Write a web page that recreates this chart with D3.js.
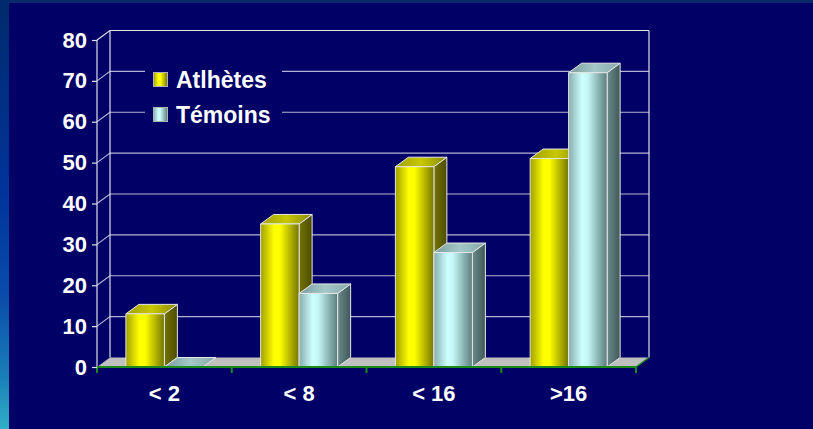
<!DOCTYPE html>
<html>
<head>
<meta charset="utf-8">
<script src="https://cdn.jsdelivr.net/npm/d3@7"></script>
<style>
  html, body { margin: 0; padding: 0; background: #000066; }
  svg { display: block; }
  text { font-family: "Liberation Sans", Arial, sans-serif; font-weight: bold; fill: #ffffff; }
</style>
</head>
<body>
<svg id="chart" width="813" height="429"></svg>
<script>
// Age groups and the share of each group (percent)
const categories = ["< 2", "< 8", "< 16", ">16"];
const athletes = [13, 35, 49, 51];
const temoins = [0, 18, 28, 72];
const seriesNames = ["Atlhètes", "Témoins"];
const yTicks = [0, 10, 20, 30, 40, 50, 60, 70, 80];

const W = 813, H = 429;
const svg = d3.select("#chart");
const defs = svg.append("defs");

// Depth offset of the 3D box (back plane relative to front plane)
const DX = 13, DY = -9.5;

// Background with the slide's side band
const side = defs.append("linearGradient").attr("id", "sideBand")
  .attr("x1", 0).attr("y1", 0).attr("x2", 0).attr("y2", 1);
[["0", "#002a6c"], ["0.45", "#00349a"], ["0.7", "#0a4eaa"], ["0.88", "#1a80b8"], ["1", "#30b0c8"]]
  .forEach(([o, c]) => side.append("stop").attr("offset", o).attr("stop-color", c));

svg.append("rect").attr("width", W).attr("height", H).attr("fill", "#000066");
svg.append("rect").attr("width", W).attr("height", 3).attr("fill", "#062a6c");
svg.append("rect").attr("width", 9).attr("height", H).attr("fill", "url(#sideBand)");

// Scales (front plane)
const y = d3.scaleLinear().domain([0, 80]).range([367, 40]);
const x = d3.scaleBand().domain(categories).range([97, 636]).paddingInner(0).paddingOuter(0);
const xs = d3.scaleBand().domain(seriesNames).range([0, x.bandwidth()])
  .paddingInner(0).paddingOuter(0.75);

const x0 = x.range()[0], x1 = x.range()[1];
const yb = y(0), yt = y(80);

// Gradients for the bar faces
function hGrad(id, stops) {
  const g = defs.append("linearGradient").attr("id", id)
    .attr("x1", 0).attr("y1", 0).attr("x2", 1).attr("y2", 0);
  stops.forEach(([o, c]) => g.append("stop").attr("offset", o).attr("stop-color", c));
}
hGrad("yFront", [["0", "#a0a000"], ["0.35", "#ffff00"], ["0.5", "#ffff00"], ["1", "#747400"]]);
hGrad("ySide", [["0", "#747400"], ["1", "#4c4c00"]]);
hGrad("yTop", [["0", "#a0a000"], ["0.5", "#c8c800"], ["1", "#8a8a00"]]);
hGrad("tFront", [["0", "#88acac"], ["0.35", "#ccffff"], ["0.5", "#c4f6f6"], ["1", "#5c7c7c"]]);
hGrad("tSide", [["0", "#6a8a8a"], ["1", "#405858"]]);
hGrad("tTop", [["0", "#7a9e9e"], ["0.5", "#a4c8c8"], ["1", "#86a8a8"]]);
const fills = [
  { front: "url(#yFront)", side: "url(#ySide)", top: "url(#yTop)", swatch: "url(#yFront)" },
  { front: "url(#tFront)", side: "url(#tSide)", top: "url(#tTop)", swatch: "url(#tFront)" }
];

const gridColor = "#b4b4d4";
const wallColor = "#e0e0e8";

// Floor
svg.append("polygon")
  .attr("points", [[x0, yb], [x1, yb], [x1 + DX, yb + DY], [x0 + DX, yb + DY]].join(" "))
  .attr("fill", "#c0c0c0");

// Gridlines on the side wall and back wall
const grid = svg.append("g");
yTicks.filter(t => t > 0).forEach(t => {
  const yy = y(t);
  grid.append("polyline")
    .attr("points", [[x0, yy], [x0 + DX, yy + DY], [x1 + DX, yy + DY]].join(" "))
    .attr("fill", "none").attr("stroke", t === 80 ? wallColor : gridColor).attr("stroke-width", 1.2);
});
// Wall edges
grid.append("line").attr("x1", x0 + DX).attr("x2", x0 + DX).attr("y1", yt + DY).attr("y2", yb + DY)
  .attr("stroke", wallColor).attr("stroke-width", 1.2);
grid.append("line").attr("x1", x1 + DX).attr("x2", x1 + DX).attr("y1", yt + DY).attr("y2", yb + DY)
  .attr("stroke", wallColor).attr("stroke-width", 1.2);
grid.append("line").attr("x1", x0).attr("x2", x0).attr("y1", yt).attr("y2", yb)
  .attr("stroke", wallColor).attr("stroke-width", 1.2);

// Legend (box masks the gridlines behind it)
const legend = svg.append("g");
legend.append("rect").attr("x", 145).attr("y", 64).attr("width", 137).attr("height", 62).attr("fill", "#000066");
seriesNames.forEach((name, i) => {
  const ly = 72 + i * 35;
  legend.append("rect").attr("x", 153.5).attr("y", ly + 0.5).attr("width", 14).attr("height", 14)
    .attr("fill", fills[i].swatch).attr("stroke", "#b0b0b0").attr("stroke-width", 1);
  legend.append("text").attr("x", 176).attr("y", ly + 16).attr("font-size", 23).text(name);
});

// Bars, drawn left to right so nearer faces cover farther ones
const seriesData = [athletes, temoins];
const bars = svg.append("g");
categories.forEach((c, ci) => {
  seriesNames.forEach((s, si) => {
    const v = seriesData[si][ci];
    const bx0 = x(c) + xs(s), bx1 = bx0 + xs.bandwidth();
    const top = y(v);
    const f = fills[si];
    const g = bars.append("g").attr("stroke", "#e6e6e6").attr("stroke-width", 1).attr("stroke-linejoin", "round");
    if (v > 0) {
      g.append("polygon")
        .attr("points", [[bx1, top], [bx1 + DX, top + DY], [bx1 + DX, yb + DY], [bx1, yb]].join(" "))
        .attr("fill", f.side);
    }
    g.append("polygon")
      .attr("points", [[bx0, top], [bx0 + DX, top + DY], [bx1 + DX, top + DY], [bx1, top]].join(" "))
      .attr("fill", f.top);
    if (v > 0) {
      g.append("rect").attr("x", bx0).attr("y", top).attr("width", bx1 - bx0).attr("height", yb - top)
        .attr("fill", f.front);
    }
  });
});

// Front edge of the floor and category ticks
svg.append("line").attr("x1", x0).attr("x2", x1).attr("y1", yb).attr("y2", yb)
  .attr("stroke", "#1a8a1a").attr("stroke-width", 2);
svg.append("line").attr("x1", x1).attr("x2", x1 + DX).attr("y1", yb).attr("y2", yb + DY)
  .attr("stroke", "#1a8a1a").attr("stroke-width", 1.5);
categories.concat(["end"]).forEach((c, i) => {
  const xx = i < categories.length ? x(c) : x1;
  svg.append("line").attr("x1", xx).attr("x2", xx).attr("y1", yb).attr("y2", yb + 6)
    .attr("stroke", "#1a8a1a").attr("stroke-width", 2);
});

// Value axis
const yAxis = d3.axisLeft(y).tickValues(yTicks).tickSize(5).tickPadding(5);
const ya = svg.append("g").attr("transform", `translate(${x0},0)`).call(yAxis);
ya.select(".domain").remove();
ya.selectAll(".tick line").attr("stroke", wallColor).attr("stroke-width", 1.2);
ya.selectAll(".tick text").attr("font-size", 22).attr("fill", "#ffffff")
  .attr("font-family", "'Liberation Sans', Arial, sans-serif").attr("font-weight", "bold");

// Category axis labels
const xAxis = d3.axisBottom(x).tickSize(0).tickPadding(0);
const xa = svg.append("g").attr("transform", `translate(0,${yb})`).call(xAxis);
xa.select(".domain").remove();
xa.selectAll(".tick text").attr("font-size", 22).attr("fill", "#ffffff").attr("dy", null).attr("y", 34)
  .attr("font-family", "'Liberation Sans', Arial, sans-serif").attr("font-weight", "bold");
</script>
</body>
</html>
